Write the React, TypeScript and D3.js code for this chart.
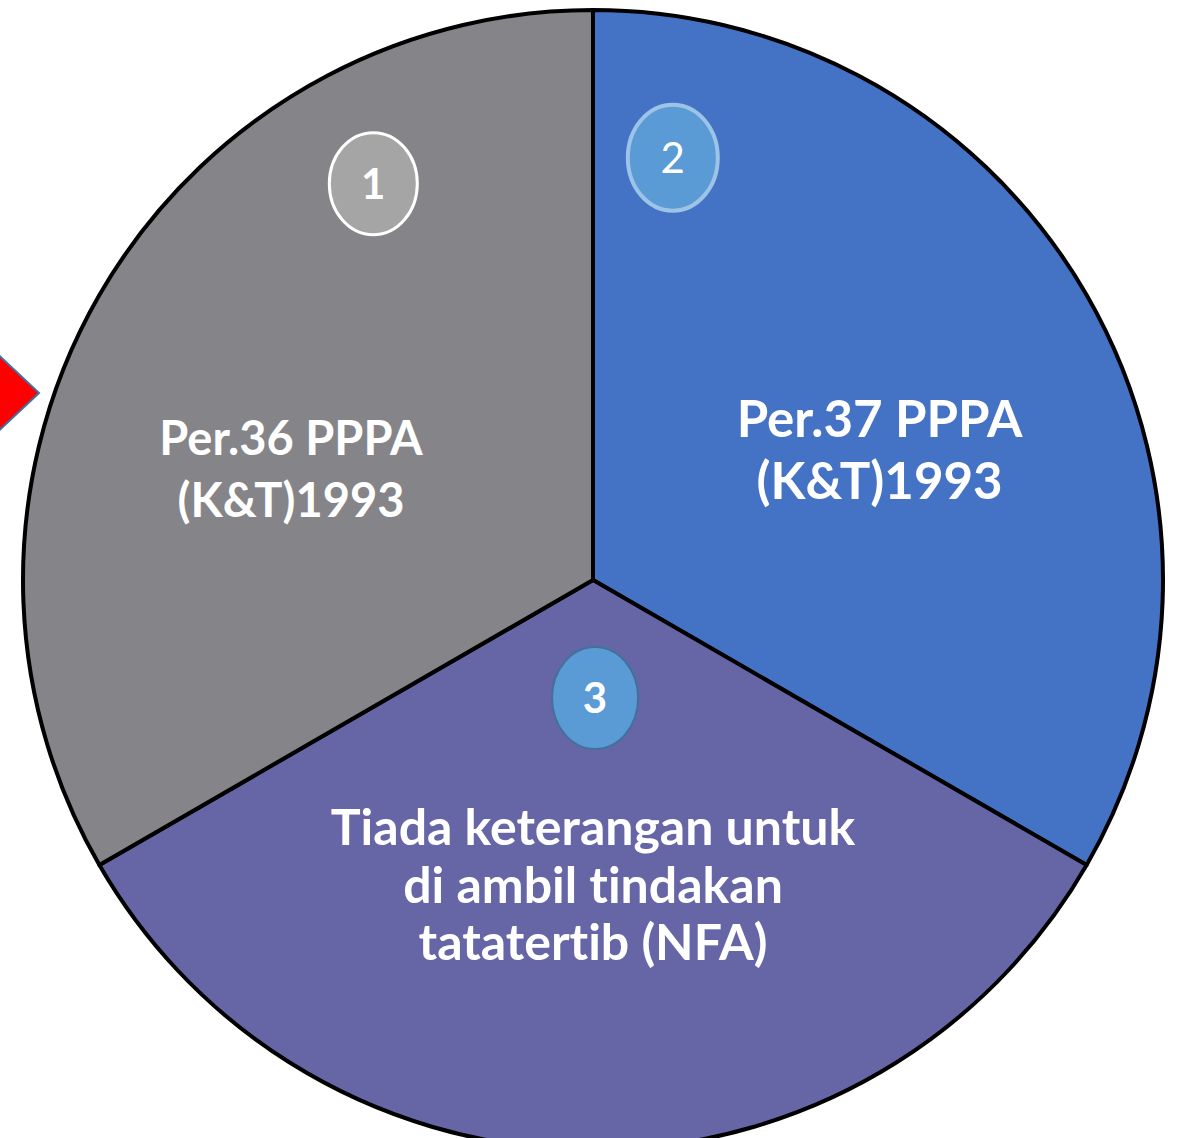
import React from 'react';
import * as d3 from 'd3';

const slices = ['Per.36 PPPA', 'Per.37 PPPA', 'NFA'];
const sliceValues = [1, 1, 1];
const sliceColors = ['#858488', '#4472C4', '#6666A6'];
const sliceOrder = [1, 2, 0]; // clockwise from top: blue, purple, gray

const labelLines = [
  ['Per.36 PPPA', '(K&T)1993'],
  ['Per.37 PPPA', '(K&T)1993'],
  ['Tiada keterangan untuk', 'di ambil tindakan', 'tatatertib (NFA)'],
];
const badgeText = ['1', '2', '3'];

const W = 1178;
const H = 1138;

const App: React.FC = () => {
  const cx = 593;
  const cy = 580;
  const r = 570;

  const ordered = sliceOrder.map(i => ({ i, v: sliceValues[i] }));
  const arcs = d3.pie<{ i: number; v: number }>().sort(null).value(d => d.v)(ordered);
  const arcGen = d3.arc<d3.PieArcDatum<{ i: number; v: number }>>().innerRadius(0).outerRadius(r);

  // label / badge placement in polar terms (angle deg clockwise from top, radius fraction)
  const labelPos: Record<number, { a: number; f: number; lh: number; fs: number }> = {
    0: { a: 289.8, f: 0.563, lh: 62, fs: 47 },
    1: { a: 66.1, f: 0.55, lh: 62, fs: 51 },
    2: { a: 180, f: 0.54, lh: 57.5, fs: 50 },
  };
  const badgePos: Record<number, { a: number; f: number; rx: number; ry: number; fill: string; stroke: string; sw: number; weight: number }> = {
    0: { a: 331, f: 0.795, rx: 44, ry: 51, fill: '#A5A5A5', stroke: '#FFFFFF', sw: 3, weight: 700 },
    1: { a: 10.7, f: 0.754, rx: 45, ry: 53, fill: '#5B9BD5', stroke: '#9DC3E6', sw: 4, weight: 400 },
    2: { a: 179, f: 0.207, rx: 43, ry: 51, fill: '#5B9BD5', stroke: '#41719C', sw: 2, weight: 700 },
  };
  const polar = (a: number, f: number) => {
    const rad = (a * Math.PI) / 180;
    return [cx + Math.sin(rad) * r * f, cy - Math.cos(rad) * r * f];
  };

  const font = "Lato, 'Open Sans', sans-serif";

  return (
    <svg width={W} height={H} style={{ position: 'absolute', left: 0, top: 0, background: '#fff', fontVariantLigatures: 'none' }}>
      {/* red arrow at left edge */}
      <path d="M -12 345 L 39 393 L -12 441 Z" fill="#FF0000" stroke="#41719C" strokeWidth={2} />
      <g transform={`translate(${cx},${cy})`}>
        {arcs.map(a => (
          <path key={a.data.i} d={arcGen(a) || ''} fill={sliceColors[a.data.i]} stroke="#000" strokeWidth={4} strokeLinejoin="round" />
        ))}
      </g>
      {slices.map((s, i) => {
        const b = badgePos[i];
        const [bx, by] = polar(b.a, b.f);
        return (
          <g key={'b' + s}>
            <ellipse cx={bx} cy={by} rx={b.rx} ry={b.ry} fill={b.fill} stroke={b.stroke} strokeWidth={b.sw} />
            <text x={bx} y={by + 15} textAnchor="middle" fill="#fff" fontFamily={font} fontWeight={b.weight} fontSize={42}>
              {badgeText[i]}
            </text>
          </g>
        );
      })}
      {slices.map((s, i) => {
        const p = labelPos[i];
        const [lx, ly] = polar(p.a, p.f);
        const lines = labelLines[i];
        const y0 = ly - ((lines.length - 1) * p.lh) / 2;
        return (
          <text key={'l' + s} textAnchor="middle" fill="#fff" fontFamily={font} fontWeight={700} fontSize={p.fs}>
            {lines.map((t, k) => (
              <tspan key={k} x={lx} y={y0 + k * p.lh + 15}>{t}</tspan>
            ))}
          </text>
        );
      })}
    </svg>
  );
};

export default App;
